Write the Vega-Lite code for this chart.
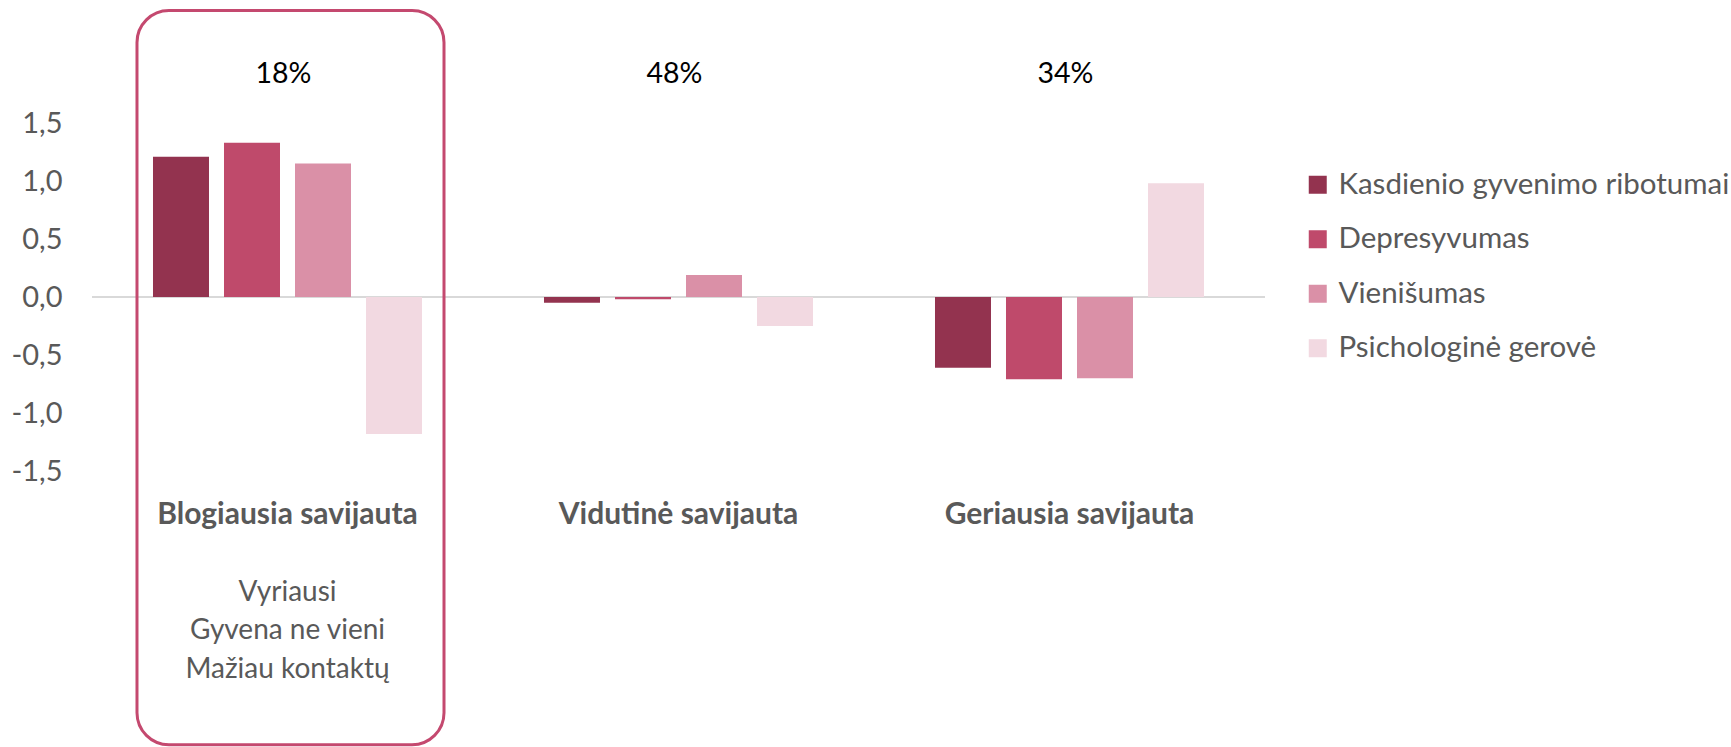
{
  "$schema": "https://vega.github.io/schema/vega-lite/v6.json",
  "width": 1173,
  "height": 348,
  "autosize": {"type": "none"},
  "padding": {"left": 92, "top": 123, "right": 466, "bottom": 276},
  "background": "white",
  "config": {"view": {"stroke": null}, "font": "Lato"},
  "datasets": {
    "bars": [
      {"group": "Blogiausia savijauta", "measure": "Kasdienio gyvenimo ribotumai", "value": 1.21},
      {"group": "Blogiausia savijauta", "measure": "Depresyvumas", "value": 1.33},
      {"group": "Blogiausia savijauta", "measure": "Vienišumas", "value": 1.15},
      {"group": "Blogiausia savijauta", "measure": "Psichologinė gerovė", "value": -1.18},
      {"group": "Vidutinė savijauta", "measure": "Kasdienio gyvenimo ribotumai", "value": -0.05},
      {"group": "Vidutinė savijauta", "measure": "Depresyvumas", "value": -0.02},
      {"group": "Vidutinė savijauta", "measure": "Vienišumas", "value": 0.19},
      {"group": "Vidutinė savijauta", "measure": "Psichologinė gerovė", "value": -0.25},
      {"group": "Geriausia savijauta", "measure": "Kasdienio gyvenimo ribotumai", "value": -0.61},
      {"group": "Geriausia savijauta", "measure": "Depresyvumas", "value": -0.71},
      {"group": "Geriausia savijauta", "measure": "Vienišumas", "value": -0.70},
      {"group": "Geriausia savijauta", "measure": "Psichologinė gerovė", "value": 0.98}
    ],
    "groups": [
      {"group": "Blogiausia savijauta", "pct": "18%", "note": "Vyriausi\nGyvena ne vieni\nMažiau kontaktų"},
      {"group": "Vidutinė savijauta", "pct": "48%", "note": ""},
      {"group": "Geriausia savijauta", "pct": "34%", "note": ""}
    ],
    "highlight": [{"group": "Blogiausia savijauta"}]
  },
  "layer": [
    {
      "data": {"name": "highlight"},
      "mark": {"type": "rule", "color": "#d9d9d9", "strokeWidth": 2},
      "encoding": {"y": {"datum": 0, "type": "quantitative"}}
    },
    {
      "data": {"name": "bars"},
      "mark": {"type": "bar"},
      "encoding": {
        "x": {
          "field": "group", "type": "nominal",
          "sort": ["Blogiausia savijauta", "Vidutinė savijauta", "Geriausia savijauta"],
          "scale": {"paddingInner": 0.2148, "paddingOuter": 0.1074},
          "axis": {"title": null, "domain": false, "ticks": false, "labelFontWeight": "bold", "labelFontSize": 30, "labelColor": "#595959", "labelPadding": 52, "labelBaseline": "alphabetic", "labelAngle": 0, "labelLimit": 0}
        },
        "xOffset": {
          "field": "measure", "type": "nominal",
          "sort": ["Kasdienio gyvenimo ribotumai", "Depresyvumas", "Vienišumas", "Psichologinė gerovė"],
          "scale": {"paddingInner": 0.2113, "paddingOuter": 0.2676}
        },
        "y": {
          "field": "value", "type": "quantitative",
          "scale": {"domain": [-1.5, 1.5], "nice": false, "zero": false},
          "axis": {"title": null, "values": [-1.5, -1, -0.5, 0, 0.5, 1, 1.5], "labelExpr": "replace(replace(format(datum.value, '.1f'), '.', ','), '\u2212', '-')", "domain": false, "ticks": false, "grid": false, "labelFontSize": 29, "labelColor": "#595959", "labelPadding": 30}
        },
        "color": {
          "field": "measure", "type": "nominal",
          "scale": {"domain": ["Kasdienio gyvenimo ribotumai", "Depresyvumas", "Vienišumas", "Psichologinė gerovė"], "range": ["#93334F", "#BF4A6B", "#DA90A7", "#F2D9E1"]},
          "legend": {"orient": "none", "legendX": 1211, "legendY": 47, "title": null, "symbolType": "square", "symbolSize": 324, "symbolStrokeWidth": 0, "symbolOpacity": 1, "labelFontSize": 29.5, "labelColor": "#595959", "rowPadding": 23.5, "labelOffset": 6, "labelLimit": 0}
        }
      }
    },
    {
      "data": {"name": "highlight"},
      "mark": {"type": "rect", "filled": false, "stroke": "#C4496F", "strokeWidth": 3, "cornerRadius": 32, "xOffset": 3},
      "encoding": {
        "x": {"field": "group", "type": "nominal", "sort": ["Blogiausia savijauta", "Vidutinė savijauta", "Geriausia savijauta"]},
        "y": {"datum": 2.47, "type": "quantitative"},
        "y2": {"datum": -3.86}
      }
    },
    {
      "data": {"name": "groups"},
      "mark": {"type": "text", "baseline": "alphabetic", "dy": -40, "dx": -4, "fontSize": 28.5, "color": "#000000"},
      "encoding": {
        "x": {"field": "group", "type": "nominal", "sort": ["Blogiausia savijauta", "Vidutinė savijauta", "Geriausia savijauta"]},
        "y": {"datum": 1.5, "type": "quantitative"},
        "text": {"field": "pct"}
      }
    },
    {
      "data": {"name": "groups"},
      "mark": {"type": "text", "baseline": "alphabetic", "dy": 130, "fontSize": 28, "lineBreak": "\n", "lineHeight": 38.3, "color": "#595959"},
      "encoding": {
        "x": {"field": "group", "type": "nominal", "sort": ["Blogiausia savijauta", "Vidutinė savijauta", "Geriausia savijauta"]},
        "y": {"datum": -1.5, "type": "quantitative"},
        "text": {"field": "note"}
      }
    }
  ]
}
